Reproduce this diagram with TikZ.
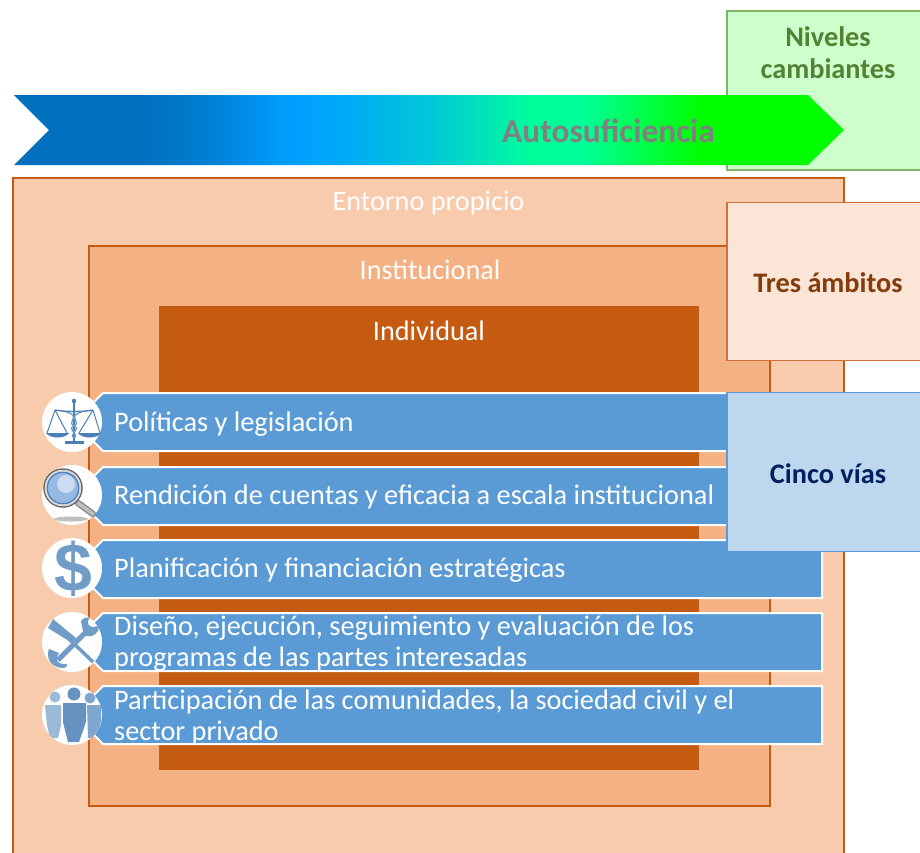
\documentclass[tikz,border=0pt]{standalone}
\usepackage{fontspec}
\setmainfont{Carlito}
\newfontfamily\iconfont{Liberation Sans}
\definecolor{cOuter}{HTML}{F8CBAD}
\definecolor{cMid}{HTML}{F4B183}
\definecolor{cInner}{HTML}{C55A11}
\definecolor{cBlue}{HTML}{5B9BD5}
\definecolor{cIcon}{HTML}{6F9DC8}
\definecolor{cIconD}{HTML}{4A7FB5}
\definecolor{cNivFill}{HTML}{CCFFCC}
\definecolor{cNivLine}{HTML}{82B366}
\definecolor{cNivText}{HTML}{548235}
\definecolor{cTresFill}{HTML}{FBE5D6}
\definecolor{cTresLine}{HTML}{D2703A}
\definecolor{cTresText}{HTML}{843C0C}
\definecolor{cCincoFill}{HTML}{BDD7EE}
\definecolor{cCincoText}{HTML}{002060}
\definecolor{cLens}{HTML}{96B9E1}
\definecolor{cLensHi}{HTML}{CDDCF0}
\pgfdeclarehorizontalshading{arrowgrad}{100bp}{
 rgb(0bp)=(0,0.44,0.75);
 rgb(33bp)=(0,0.44,0.75);
 rgb(36.2bp)=(0,0.49,0.81);
 rgb(41.6bp)=(0,0.62,1);
 rgb(44.5bp)=(0,0.66,0.98);
 rgb(50bp)=(0,0.78,0.85);
 rgb(56.3bp)=(0,1,0.6);
 rgb(59.3bp)=(0,1,0.6);
 rgb(66.3bp)=(0,1,0);
 rgb(100bp)=(0,1,0)}
\tikzset{
 areabox/.style={draw=cInner,line width=2pt,anchor=north west,inner sep=0pt},
 boxtitle/.style={text=white,font=\fontsize{28.2}{32}\selectfont,inner sep=0pt},
 sidebox/.style={line width=1.8pt,anchor=north west,inner sep=0pt,minimum width=200pt},
 sidetext/.style={inner sep=0pt,align=center,font=\fontsize{28.3}{32}\bfseries\selectfont},
 pathway/.style={fill=cBlue,draw=white,line width=2pt,line join=miter},
 pathtext/.style={text=white,anchor=west,inner sep=0pt,align=left,font=\fontsize{28.3}{31}\selectfont},
 iconbg/.style={circle,fill=white,minimum size=60pt,inner sep=0pt},
}
\begin{document}
\begin{tikzpicture}[x=1pt,y=-1pt]
\useasboundingbox (0,0) rectangle (920,852);
\fill[white] (0,0) rectangle (920,852);
% niveles box
\node (niveles) [sidebox,draw=cNivLine,fill=cNivFill,minimum height=159pt] at (726.4,10.4) {};
\node (nivelestxt) [sidetext,text=cNivText] at (828,53) {Niveles\\cambiantes};
% arrow
\shade[shading=arrowgrad] (14,95) -- (808,95) -- (844,130) -- (808,165) -- (14,165) -- (49,130) -- cycle;
\node (auto) [inner sep=0pt,text=black!50,font=\fontsize{33.4}{38}\bfseries\selectfont] at (608.5,131) {Autosuficiencia};
% nested domains
\node (outer) [areabox,fill=cOuter,minimum width=831pt,minimum height=680pt] at (12.2,177.4) {};
\node (mid) [areabox,fill=cMid,minimum width=681pt,minimum height=560pt] at (88.2,245.2) {};
\node (inner) [anchor=north west,inner sep=0pt,fill=cInner,minimum width=540pt,minimum height=464pt] at (159,306) {};
\node (t1) [boxtitle] at (428.5,203) {Entorno propicio};
\node (t2) [boxtitle] at (430,270) {Institucional};
\node (t3) [boxtitle] at (429,331) {Individual};
% tres ambitos
\node (tres) [sidebox,draw=cTresLine,fill=cTresFill,minimum height=158pt] at (726.4,201.6) {};
\node (trestxt) [sidetext,text=cTresText] at (828,283) {Tres ámbitos};
% pathways
\foreach \yy in {393,467,540,613,686}{
 \draw[pathway] (103,\yy) -- (822,\yy) -- (822,\yy+58) -- (103,\yy+58) -- (90,\yy+45) -- (90,\yy+13) -- cycle;
}
\node (p1) [pathtext] at (114,424) {Políticas y legislación};
\node (p2) [pathtext] at (114,497) {Rendición de cuentas y eficacia a escala institucional};
\node (p3) [pathtext] at (114,570) {Planificación y financiación estratégicas};
\node (p4) [pathtext] at (114,644) {Diseño, ejecución, seguimiento y evaluación de los\\programas de las partes interesadas};
\node (p5) [pathtext] at (114,717) {Participación de las comunidades, la sociedad civil y el\\sector privado};
% icons
\node (i1) [iconbg] at (72,422) {};
\node (i2) [iconbg] at (72,495) {};
\node (i3) [iconbg] at (72,568) {};
\node (i4) [iconbg] at (72,642) {};
\node (i5) [iconbg] at (72,715) {};
% scales
\begin{scope}[cIconD,line width=1pt]
\draw[line width=1.4pt] (74,400) -- (74,441);
\fill (74,401) circle (2.2pt);
\draw[line width=1.4pt] (55,410) .. controls (65,412) and (83,412) .. (93,410);
\draw (55,410) -- (47,433) (55,410) -- (67,433);
\draw (93,410) -- (79,433) (93,410) -- (100,433);
\fill (46,433) -- (69,433) .. controls (65,439) and (50,439) .. (46,433) -- cycle;
\fill (78,433) -- (101,433) .. controls (97,439) and (82,439) .. (78,433) -- cycle;
\draw[cIcon,line width=1.3pt] (66,412) .. controls (82,416) and (66,422) .. (74,426) .. controls (82,429) and (68,434) .. (74,438);
\draw[cIcon,line width=1.3pt] (82,412) .. controls (66,416) and (82,422) .. (74,426) .. controls (66,429) and (80,434) .. (74,438);
\fill (65,441) rectangle (84,444);
\end{scope}
% magnifier
\fill[black!25] (71,519) ellipse (17pt and 2.5pt);
\draw[black!45,line width=6.5pt,line cap=round] (78,503) -- (93,514);
\draw[black!25,line width=3.5pt,line cap=round] (78,503) -- (93,514);
\fill[cLens] (63,488) circle (16pt);
\fill[cLensHi] (66,484) circle (9pt);
\draw[black!60,line width=1.5pt] (63,488) circle (19pt);
\draw[black!15,line width=1.5pt] (63,488) circle (17.5pt);
\draw[cIconD,line width=1.3pt] (63,488) circle (15.8pt);
% dollar
\node (dollar) [inner sep=0pt,text=cIcon,font=\fontsize{68}{70}\bfseries\iconfont] at (73,569) {\$};
% crossed tools
\begin{scope}[cIcon]
\draw[line width=3.5pt] (66,636) -- (93,662);
\fill (48,628) -- (53,619) -- (76,638) -- (72,643) -- cycle;
\draw[line width=5pt] (88,630) -- (58,660);
\fill (81,621) .. controls (84,617) and (88,617) .. (90,618) .. controls (85,622) and (89,630) .. (97,626) .. controls (101,628) and (97,634) .. (92,636) -- (84,636) -- cycle;
\fill (49,649) .. controls (46,656) and (49,668) .. (64,668) .. controls (69,666) and (68,663) .. (64,664) .. controls (58,664) and (54,660) .. (59,653) -- cycle;
\end{scope}
% people
\begin{scope}
\clip (72,715) circle (30pt);
\fill[cIcon!70] (55,697) circle (5.5pt);
\fill[cIcon!70] (45,705) -- (61,705) -- (61,725) -- (58,738) -- (50,738) -- (47,725) -- cycle;
\fill[cIcon!90] (90,698) circle (5.5pt);
\fill[cIcon!90] (87,705) -- (101,705) -- (101,722) -- (96,738) -- (88,738) -- cycle;
\fill[cIconD!85] (74,694) circle (6.5pt);
\fill[cIconD!85] (63,703) -- (86,703) -- (86,722) -- (79,742) -- (68,742) -- (63,722) -- cycle;
\end{scope}
% cinco vias
\node (cinco) [sidebox,draw=cBlue,fill=cCincoFill,minimum height=159pt] at (726.4,391.6) {};
\node (cincotxt) [sidetext,text=cCincoText] at (828,474) {Cinco vías};
\end{tikzpicture}
\end{document}
